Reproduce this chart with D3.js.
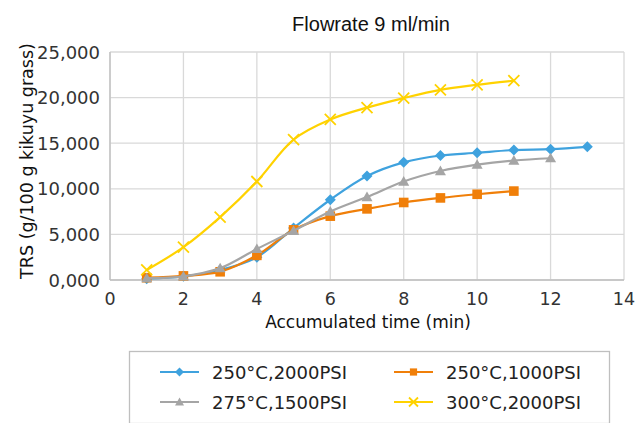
<!DOCTYPE html>
<html>
<head>
<meta charset="utf-8">
<script src="https://cdn.jsdelivr.net/npm/d3@7"></script>
<style>
  body { margin: 0; background: #fff; }
  text { font-family: "DejaVu Sans", sans-serif; }
</style>
</head>
<body>
<div id="chart"></div>
<script>
// data
const timesA = [1, 2, 3, 4, 5, 6, 7, 8, 9, 10, 11, 12, 13];
const s250_2000 = [150, 400, 1100, 2500, 5700, 8800, 11400, 12900, 13650, 13950, 14250, 14350, 14600];
const timesB = [1, 2, 3, 4, 5, 6, 7, 8, 9, 10, 11];
const s250_1000 = [250, 450, 900, 2700, 5500, 7000, 7800, 8500, 9000, 9400, 9750];
const timesC = [1, 2, 3, 4, 5, 6, 7, 8, 9, 10, 11, 12];
const s275_1500 = [200, 400, 1300, 3400, 5400, 7500, 9100, 10800, 11950, 12650, 13100, 13350];
const timesD = [1, 2, 3, 4, 5, 6, 7, 8, 9, 10, 11];
const s300_2000 = [1100, 3600, 6900, 10800, 15400, 17600, 18900, 19950, 20850, 21400, 21850];

const xTicks = [0, 2, 4, 6, 8, 10, 12, 14];
const yTicks = [0, 5000, 10000, 15000, 20000, 25000];
const yTickLabels = ["0,000", "5,000", "10,000", "15,000", "20,000", "25,000"];

const seriesList = [
  { name: "250°C,2000PSI", x: timesA, y: s250_2000, color: "#3fa2de", marker: "diamond" },
  { name: "250°C,1000PSI", x: timesB, y: s250_1000, color: "#f07f09", marker: "square" },
  { name: "275°C,1500PSI", x: timesC, y: s275_1500, color: "#a5a5a5", marker: "triangle" },
  { name: "300°C,2000PSI", x: timesD, y: s300_2000, color: "#ffd200", marker: "cross" }
];

const W = 637, H = 423;
const m = { left: 110, right: 13, top: 52, bottom: 143 };

const svg = d3.select("#chart").append("svg")
  .attr("width", W).attr("height", H);

const x = d3.scaleLinear().domain([0, 14]).range([m.left, W - m.right]);
const y = d3.scaleLinear().domain([0, 25000]).range([H - m.bottom, m.top]);

// grid
const g = svg.append("g");
g.selectAll("line.h").data(yTicks).enter().append("line")
  .attr("x1", x(0)).attr("x2", x(14))
  .attr("y1", d => y(d)).attr("y2", d => y(d))
  .attr("stroke", "#d9d9d9").attr("stroke-width", 1.3);
g.selectAll("line.v").data(xTicks).enter().append("line")
  .attr("y1", y(0)).attr("y2", y(25000))
  .attr("x1", d => x(d)).attr("x2", d => x(d))
  .attr("stroke", "#d9d9d9").attr("stroke-width", 1.3);
// axis lines a bit darker
svg.append("line").attr("x1", x(0)).attr("x2", x(14)).attr("y1", y(0)).attr("y2", y(0))
  .attr("stroke", "#bfbfbf").attr("stroke-width", 1.3);
svg.append("line").attr("x1", x(0)).attr("x2", x(0)).attr("y1", y(0)).attr("y2", y(25000))
  .attr("stroke", "#bfbfbf").attr("stroke-width", 1.3);

// tick labels
svg.selectAll("text.yt").data(yTicks).enter().append("text")
  .attr("x", x(0) - 10).attr("y", d => y(d) + 6.5)
  .attr("text-anchor", "end").attr("font-size", 18).attr("fill", "#333")
  .text((d, i) => yTickLabels[i]);
svg.selectAll("text.xt").data(xTicks).enter().append("text")
  .attr("x", d => x(d)).attr("y", y(0) + 25)
  .attr("text-anchor", "middle").attr("font-size", 17.5).attr("fill", "#333")
  .text(d => d);

// titles
svg.append("text").attr("x", 371).attr("y", 31).attr("text-anchor", "middle")
  .attr("font-size", 20)
  .style("font-family", "'Liberation Sans Narrow', 'Liberation Sans', sans-serif")
  .attr("fill", "#111").text("Flowrate 9 ml/min");
svg.append("text").attr("x", 368).attr("y", 328).attr("text-anchor", "middle")
  .attr("font-size", 17).attr("fill", "#111")
  .text("Accumulated time (min)");
svg.append("text").attr("transform", "translate(33,161) rotate(-90)")
  .attr("text-anchor", "middle").attr("font-size", 17.5).attr("fill", "#111")
  .text("TRS (g/100 g kikuyu grass)");

// markers
function drawMarker(sel, type, color, size) {
  if (type === "diamond") {
    sel.append("path").attr("d", `M0,${-size}L${size},0L0,${size}L${-size},0Z`).attr("fill", color);
  } else if (type === "square") {
    sel.append("rect").attr("x", -size * 0.8).attr("y", -size * 0.8)
      .attr("width", size * 1.6).attr("height", size * 1.6).attr("fill", color);
  } else if (type === "triangle") {
    sel.append("path").attr("d", `M0,${-size}L${size},${size * 0.75}L${-size},${size * 0.75}Z`).attr("fill", color);
  } else {
    sel.append("path").attr("d", `M${-size},${-size}L${size},${size}M${-size},${size}L${size},${-size}`)
      .attr("stroke", color).attr("stroke-width", 1.8).attr("fill", "none");
  }
}

const line = d3.line().curve(d3.curveCatmullRom.alpha(0.5))
  .x(d => x(d[0])).y(d => y(d[1]));

seriesList.forEach(s => {
  const pts = s.x.map((t, i) => [t, s.y[i]]);
  svg.append("path").datum(pts).attr("d", line)
    .attr("fill", "none").attr("stroke", s.color).attr("stroke-width", 2.2);
  pts.forEach(p => {
    const mg = svg.append("g").attr("transform", `translate(${x(p[0])},${y(p[1])})`);
    drawMarker(mg, s.marker, s.color, s.marker === "square" ? 6 : 5.5);
  });
});

// legend
svg.append("rect").attr("x", 129.5).attr("y", 351.5).attr("width", 480).attr("height", 72)
  .attr("fill", "none").attr("stroke", "#bfbfbf").attr("stroke-width", 1.3);
const legPos = [[160, 372], [394, 372], [160, 402], [394, 402]];
seriesList.forEach((s, i) => {
  const [lx, ly] = legPos[i];
  const lg = svg.append("g");
  lg.append("line").attr("x1", lx).attr("x2", lx + 39).attr("y1", ly).attr("y2", ly)
    .attr("stroke", s.color).attr("stroke-width", 2.2);
  const mg = lg.append("g").attr("transform", `translate(${lx + 19.5},${ly})`);
  drawMarker(mg, s.marker, s.color, 4.5);
  lg.append("text").attr("x", lx + 52).attr("y", ly + 7)
    .attr("font-size", 18).attr("fill", "#222").text(s.name);
});
</script>
</body>
</html>
